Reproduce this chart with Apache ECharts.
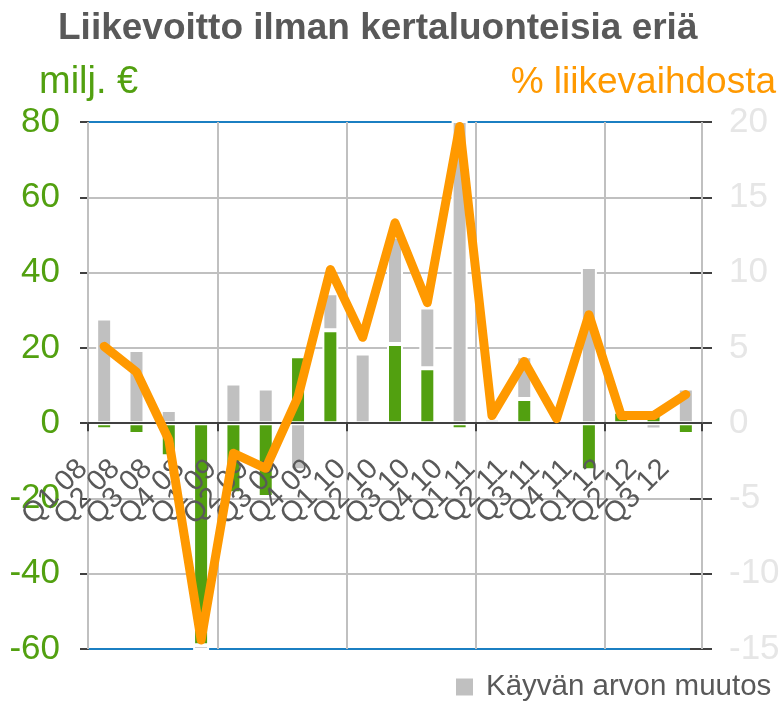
<!DOCTYPE html>
<html>
<head>
<meta charset="utf-8">
<script src="https://cdn.jsdelivr.net/npm/echarts@6/dist/echarts.min.js"></script>
<style>
  html, body { margin: 0; padding: 0; background: #ffffff; }
  #chart { width: 779px; height: 705px; }
</style>
</head>
<body>
<div id="chart"></div>
<script>
// Quarterly operating profit excluding one-off items, 2008–2012
const quarters = ['Q1 08', 'Q2 08', 'Q3 08', 'Q4 08', 'Q1 09', 'Q2 09', 'Q3 09', 'Q4 09',
  'Q1 10', 'Q2 10', 'Q3 10', 'Q4 10', 'Q1 11', 'Q2 11', 'Q3 11', 'Q4 11',
  'Q1 12', 'Q2 12', 'Q3 12'];

// Operating profit without fair value change, EUR million (green)
const profitExFairValue = [-1.6, -2.9, -8.8, -59, -18.6, -19.6, 17.8, 24.7,
  0, 21.0, 14.6, -1.6, 0, 6.4, -0.9, -12.5, 3.0, 3.5, -2.9];

// Change in fair value, EUR million (grey)
const fairValueChange = [27.8, 19.4, 3.5, -3, 10.5, 9.2, -12.5, 9.8,
  18.5, 28.5, 16.1, 85, 1.2, 11.4, 1.0, 41.5, -1.0, -1.7, 9.2];

// Operating profit excl. one-off items, % of net sales (orange line)
const marginPct = [5.1, 3.4, -1.1, -14.4, -2.0, -3.0, 1.75, 10.2, 5.7,
  13.3, 8.0, 19.7, 0.5, 4.1, 0.3, 7.2, 0.5, 0.5, 1.9];

// Axis scales
const eurAxis = { min: -60, max: 80, interval: 20 };
const pctAxis = { min: -15, max: 20, interval: 5 };

const FONT = "'Liberation Sans', Arial, sans-serif";
const GREEN = '#52a010';
const GREY = '#c0c0c0';
const ORANGE = '#ff9900';
const TEXT = '#595959';
const AXIS = '#404040';
const FRAME_BLUE = '#1b7fc2';

const gridLineColors = [FRAME_BLUE, GREY, GREY, GREY, GREY, GREY, GREY, FRAME_BLUE];
const everyFourth = (index) => index % 4 === 0;

const GRID_TOP = 122, GRID_BOTTOM = 56, CHART_H = 705;
// distance from the bottom edge of the plot up to the zero line
const plotH = CHART_H - GRID_TOP - GRID_BOTTOM;
const zeroLift = plotH * (0 - eurAxis.min) / (eurAxis.max - eurAxis.min);

const chart = echarts.init(document.getElementById('chart'), null, { renderer: 'canvas' });

chart.setOption({
  animation: false,
  backgroundColor: '#ffffff',
  textStyle: { fontFamily: FONT },
  title: [
    {
      text: 'Liikevoitto ilman kertaluonteisia eriä',
      left: 58, top: 10, padding: 0,
      textStyle: { fontFamily: FONT, fontSize: 37, fontWeight: 'bold', color: TEXT }
    },
    {
      text: 'milj. €',
      left: 39, top: 64, padding: 0,
      textStyle: { fontFamily: FONT, fontSize: 38, fontWeight: 'normal', color: GREEN }
    },
    {
      text: '% liikevaihdosta',
      right: 3, top: 64, padding: 0,
      textStyle: { fontFamily: FONT, fontSize: 37, fontWeight: 'normal', color: ORANGE }
    }
  ],
  legend: {
    data: ['Käyvän arvon muutos'],
    left: 456, top: 672, padding: 0,
    icon: 'rect', itemWidth: 17, itemHeight: 17,
    itemStyle: { borderWidth: 0 },
    textStyle: { fontFamily: FONT, fontSize: 29.5, color: TEXT, padding: [0, 0, 0, 8] }
  },
  grid: {
    left: 88, right: 77, top: GRID_TOP, bottom: GRID_BOTTOM,
    containLabel: false, outerBoundsMode: 'none'
  },
  xAxis: [
    {
      // zero line, quarter ticks and vertical year gridlines
      type: 'category',
      data: quarters,
      z: 3,
      axisLine: { onZero: true, onZeroAxisIndex: 0, lineStyle: { color: AXIS, width: 2 } },
      axisTick: { show: true, interval: everyFourth, length: 8, lineStyle: { color: AXIS, width: 2 } },
      axisLabel: { show: false },
      splitLine: { show: true, interval: everyFourth, lineStyle: { color: GREY, width: 2 } }
    },
    {
      // quarter labels sitting just below the zero line
      type: 'category',
      data: quarters,
      position: 'bottom',
      offset: -zeroLift,
      z: 3,
      axisLine: { show: false, onZero: false },
      axisTick: { show: false },
      axisLabel: {
        interval: 0, rotate: 45, margin: 20, padding: [0, 30, 0, 0],
        fontFamily: FONT, fontSize: 29, color: TEXT
      },
      splitLine: { show: false }
    }
  ],
  yAxis: [
    {
      type: 'value', position: 'left',
      min: eurAxis.min, max: eurAxis.max, interval: eurAxis.interval,
      axisLine: { show: true, lineStyle: { color: AXIS, width: 2 } },
      axisTick: { show: true, inside: false, length: 8, lineStyle: { color: AXIS, width: 2 } },
      axisLabel: { margin: 28, fontFamily: FONT, fontSize: 35, color: GREEN },
      splitLine: { show: true, lineStyle: { color: gridLineColors, width: 2 } }
    },
    {
      type: 'value', position: 'right',
      min: pctAxis.min, max: pctAxis.max, interval: pctAxis.interval,
      axisLine: { show: true, lineStyle: { color: AXIS, width: 2 } },
      axisTick: { show: true, inside: false, length: 10, lineStyle: { color: AXIS, width: 2 } },
      axisLabel: { margin: 27, fontFamily: FONT, fontSize: 35, color: '#e6e6e6' },
      splitLine: { show: false }
    },
    {
      // inner half of the right-hand tick marks
      type: 'value', position: 'right',
      min: pctAxis.min, max: pctAxis.max, interval: pctAxis.interval,
      axisLine: { show: false },
      axisTick: { show: true, inside: true, length: 12, lineStyle: { color: AXIS, width: 2 } },
      axisLabel: { show: false },
      splitLine: { show: false }
    }
  ],
  series: [
    {
      name: 'Liikevoitto ilman käyvän arvon muutosta',
      type: 'bar', stack: 'eur', xAxisIndex: 0, yAxisIndex: 0,
      barWidth: 16,
      itemStyle: { color: GREEN, borderColor: '#ffffff', borderWidth: 2 },
      data: profitExFairValue
    },
    {
      name: 'Käyvän arvon muutos',
      type: 'bar', stack: 'eur', xAxisIndex: 0, yAxisIndex: 0,
      barWidth: 16,
      itemStyle: { color: GREY, borderColor: '#ffffff', borderWidth: 2 },
      data: fairValueChange
    },
    {
      name: '% liikevaihdosta',
      type: 'line', xAxisIndex: 0, yAxisIndex: 1, z: 10,
      symbol: 'none', smooth: false,
      lineStyle: { color: ORANGE, width: 9, cap: 'round', join: 'round' },
      data: marginPct
    }
  ]
});
</script>
</body>
</html>
